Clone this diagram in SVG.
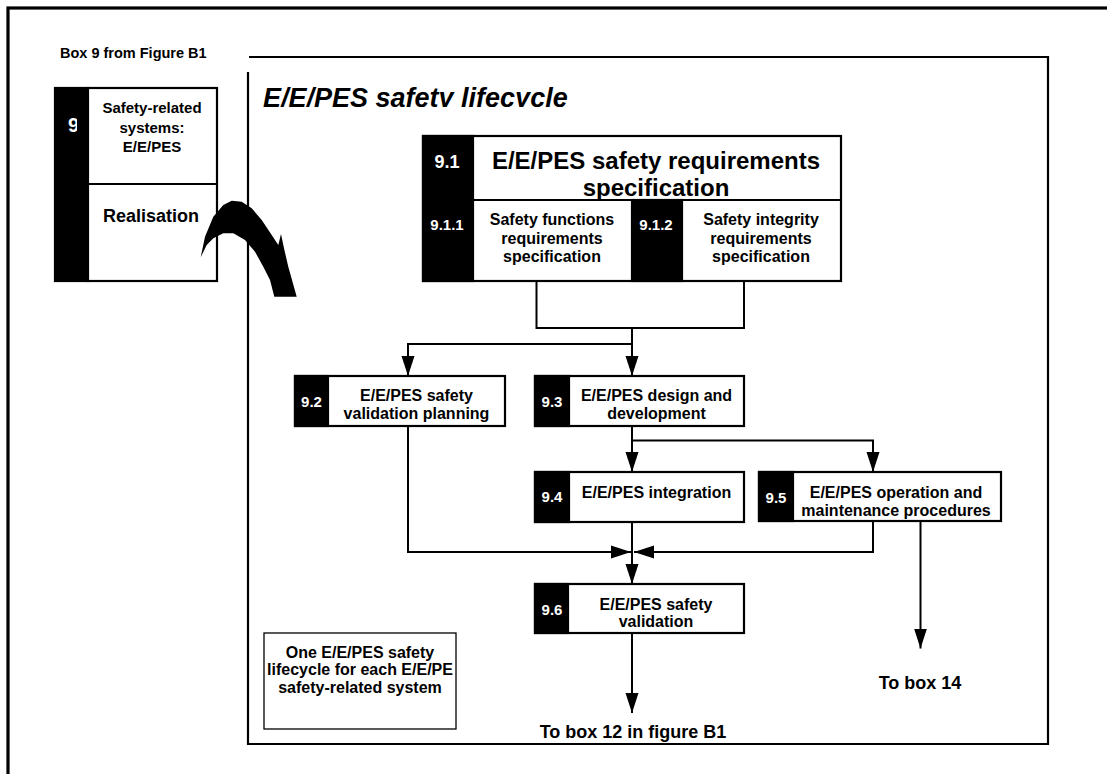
<svg xmlns="http://www.w3.org/2000/svg" width="1107" height="774" viewBox="0 0 1107 774">
<style>
text{font-family:"Liberation Sans",Arial,Helvetica,sans-serif;font-weight:bold;fill:#000}
.w{fill:#fff}
.c{text-anchor:middle}
.box{fill:#fff;stroke:#000;stroke-width:2.2}
.blk{fill:#000;stroke:#000;stroke-width:2.2}
.ln{fill:none;stroke:#000;stroke-width:2}
.t16{font-size:16px}
.n15{font-size:15px}
</style>
<defs>
<marker id="arr" markerUnits="userSpaceOnUse" markerWidth="21" markerHeight="14" refX="20" refY="7" orient="auto">
<path d="M0,0.5 L20,7 L0,13.5 Z" fill="#000"/>
</marker>
<clipPath id="titleClip"><rect x="250" y="70" width="400" height="37"/></clipPath>
<clipPath id="nineClip"><rect x="55" y="90" width="22" height="60"/></clipPath>
</defs>
<rect width="1107" height="774" fill="#fff"/>
<!-- outer frame -->
<rect x="8" y="8" width="1120" height="800" fill="none" stroke="#000" stroke-width="3.2"/>
<text x="60" y="58" style="font-size:14.5px">Box 9 from Figure B1</text>
<!-- box 9 -->
<g id="box9">
<rect x="55" y="88" width="33" height="193" class="blk"/>
<text x="68" y="132" class="w" style="font-size:20px" clip-path="url(#nineClip)">9</text>
<rect x="88" y="88" width="129" height="193" class="box" stroke-width="2"/>
<line x1="88" y1="184" x2="217" y2="184" class="ln"/>
<text class="c" x="152" y="113" style="font-size:15px">Safety-related</text>
<text class="c" x="152" y="132.5" style="font-size:15px">systems:</text>
<text class="c" x="152" y="152" style="font-size:15px">E/E/PES</text>
<text class="c" x="151" y="221.5" style="font-size:18px">Realisation</text>
</g>
<!-- inner frame -->
<g id="lifecycle-frame">
<path d="M249,57 H1048 V744 H248 V72" fill="none" stroke="#000" stroke-width="2.2"/>
<text x="263" y="107" clip-path="url(#titleClip)" style="font-size:27px;font-style:italic">E/E/PES safety lifecycle</text>
</g>
<!-- curved arrow -->
<g id="transfer-arrow">
<path d="M200.7,257.3 L205,236.7 L213.3,216.7 L223.3,205 L231.7,200.7 L241.7,201.7 L251.7,208.3 L261.7,220 L271.7,235 L278.3,245 L281,234 L284,248.3 L288.3,266.7 L296.7,296.7 L274.3,296.7 L270,280 L263.3,266.7 L255,251.7 L245,240 L233.3,233.3 L223.3,233.3 L213.3,238.3 L206.7,245 Z" fill="#000"/>
</g>
<!-- 9.1 -->
<g id="n9-1">
<rect x="423" y="136" width="418" height="145" class="box"/>
<rect x="423" y="136" width="50" height="145" class="blk"/>
<line x1="473" y1="200" x2="841" y2="200" class="ln" stroke-width="2.2"/>
<text class="c w" x="447" y="168" style="font-size:18px">9.1</text>
<text class="c" x="656" y="169" style="font-size:24px">E/E/PES safety requirements</text>
<text class="c" x="656" y="195.5" style="font-size:24px">specification</text>
</g>
<g id="n9-1-1">
<text class="c w n15" x="447" y="230">9.1.1</text>
<text class="c t16" x="552" y="225">Safety functions</text>
<text class="c t16" x="552" y="243.5">requirements</text>
<text class="c t16" x="552" y="262">specification</text>
</g>
<g id="n9-1-2">
<rect x="632" y="200" width="50" height="81" class="blk"/>
<line x1="682" y1="200" x2="682" y2="281" class="ln" stroke-width="2.2"/>
<text class="c w n15" x="656" y="230">9.1.2</text>
<text class="c t16" x="761" y="225">Safety integrity</text>
<text class="c t16" x="761" y="243.5">requirements</text>
<text class="c t16" x="761" y="262">specification</text>
</g>
<!-- 9.2 -->
<g id="n9-2">
<rect x="295" y="376" width="210" height="50" class="box"/>
<rect x="295" y="376" width="33" height="50" class="blk"/>
<text class="c w n15" x="311.5" y="407">9.2</text>
<text class="c t16" x="416.5" y="401">E/E/PES safety</text>
<text class="c t16" x="416.5" y="419">validation planning</text>
</g>
<!-- 9.3 -->
<g id="n9-3">
<rect x="535" y="376" width="209" height="50" class="box"/>
<rect x="535" y="376" width="34" height="50" class="blk"/>
<text class="c w n15" x="552" y="407">9.3</text>
<text class="c t16" x="656.5" y="401">E/E/PES design and</text>
<text class="c t16" x="656.5" y="419">development</text>
</g>
<!-- 9.4 -->
<g id="n9-4">
<rect x="535" y="472" width="209" height="50" class="box"/>
<rect x="535" y="472" width="34" height="50" class="blk"/>
<text class="c w n15" x="552" y="502">9.4</text>
<text class="c t16" x="656.5" y="498">E/E/PES integration</text>
</g>
<!-- 9.5 -->
<g id="n9-5">
<rect x="759" y="472" width="242" height="49" class="box"/>
<rect x="759" y="472" width="34" height="49" class="blk"/>
<text class="c w n15" x="776" y="502.5">9.5</text>
<text class="c t16" x="896" y="498">E/E/PES operation and</text>
<text class="c t16" x="896" y="515.5">maintenance procedures</text>
</g>
<!-- 9.6 -->
<g id="n9-6">
<rect x="535" y="584" width="209" height="49" class="box"/>
<rect x="535" y="584" width="33" height="49" class="blk"/>
<text class="c w n15" x="552" y="614.5">9.6</text>
<text class="c t16" x="656" y="609.5">E/E/PES safety</text>
<text class="c t16" x="656" y="627">validation</text>
</g>
<!-- note -->
<g id="note">
<rect x="264" y="633" width="192" height="96" fill="#fff" stroke="#000" stroke-width="1.3"/>
<text class="c t16" x="360" y="657.5">One E/E/PES safety</text>
<text class="c t16" x="360" y="675">lifecycle for each E/E/PE</text>
<text class="c t16" x="360" y="692.5">safety-related system</text>
</g>
<!-- connectors -->
<g id="connectors">
<path d="M536.5,281 V328 H744 V281" class="ln"/>
<path d="M632,328 V376" class="ln" marker-end="url(#arr)"/>
<path d="M632,344 H408 V376" class="ln" marker-end="url(#arr)"/>
<path d="M632,426 V472" class="ln" marker-end="url(#arr)"/>
<path d="M632,440.5 H873 V472" class="ln" marker-end="url(#arr)"/>
<path d="M408,426 V552 H631" class="ln" marker-end="url(#arr)"/>
<path d="M873,521 V552 H634" class="ln" marker-end="url(#arr)"/>
<path d="M632,522 V584" class="ln" marker-end="url(#arr)"/>
<path d="M632,633 V713" class="ln" marker-end="url(#arr)"/>
<path d="M920.5,521 V648.5" class="ln" marker-end="url(#arr)"/>
</g>
<text class="c" x="633" y="737.5" style="font-size:18px">To box 12 in figure B1</text>
<text class="c" x="920" y="689" style="font-size:18px">To box 14</text>
</svg>
